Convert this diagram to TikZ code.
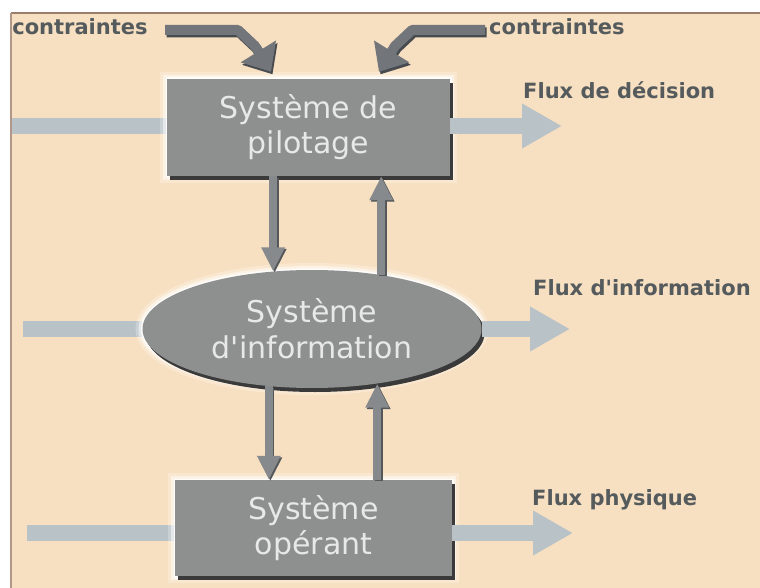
\documentclass[tikz,border=0pt]{standalone}
\usepackage{fontspec}
\setmainfont{DejaVu Sans}
\usetikzlibrary{shapes.geometric,arrows.meta,calc}
\definecolor{bgpeach}{HTML}{F7DFC1}
\definecolor{framebrown}{HTML}{9C7D6A}
\definecolor{flowblue}{HTML}{B8C2C7}
\definecolor{boxgray}{HTML}{8E8F8F}
\definecolor{shadowgray}{HTML}{3A3A3A}
\definecolor{boxtext}{HTML}{E8E8E8}
\definecolor{lblgray}{HTML}{555B5D}
\definecolor{linkgray}{HTML}{878A8D}
\definecolor{linkdark}{HTML}{55585B}
\definecolor{constrgray}{HTML}{72767A}
\definecolor{constrdark}{HTML}{474B4F}
\begin{document}
\begin{tikzpicture}[x=1pt,y=-1pt,
  glow/.style={preaction={draw=white,line width=14pt,opacity=0.25},
               preaction={draw=white,line width=8pt,opacity=0.5},
               preaction={draw=white,line width=3pt,opacity=0.9},
               preaction={fill=shadowgray,transform canvas={shift={(3pt,-4pt)}}}},
  sysbox/.style={rectangle,glow,fill=boxgray,inner sep=0pt,text=boxtext,
                 font=\fontsize{30}{35}\selectfont,align=center},
  sysell/.style={ellipse,glow,fill=boxgray,inner sep=0pt,text=boxtext,
                 font=\fontsize{30}{36}\selectfont,align=center,
                 minimum width=339pt,minimum height=118pt},
  inflow/.style={line width=16pt,draw=flowblue},
  outflow/.style={line width=16pt,draw=flowblue,-{Triangle[width=42pt,length=40pt]}},
  vlink/.style={line width=8pt,draw=linkgray,-{Triangle[width=22pt,length=24pt]}},
  vlinkshadow/.style={line width=8pt,draw=linkdark,-{Triangle[width=22pt,length=24pt]},
                 transform canvas={shift={(1.5pt,-1.5pt)}}},
  constr/.style={line width=10pt,draw=constrgray,line join=round,-{Triangle[width=40pt,length=24pt]}},
  constrshadow/.style={line width=10pt,draw=constrdark,line join=round,-{Triangle[width=40pt,length=24pt]},
                 transform canvas={shift={(1.5pt,-2.5pt)}}},
  lbl/.style={font=\bfseries\fontsize{21}{25}\selectfont,text=lblgray,inner sep=0pt}
]
\useasboundingbox (0,0) rectangle (760,588);
\fill[white] (0,0) rectangle (760,588);
\fill[bgpeach] (11,13) rectangle (760,588);
\draw[framebrown,line width=2.5pt] (11,13) -- (760,13);
\draw[framebrown!80,line width=2pt] (11,13) -- (11,588);

% free ends of the flows
\coordinate (in1) at (12,126);
\coordinate (out1) at (562,126);
\coordinate (in2) at (23,329);
\coordinate (out2) at (570,329);
\coordinate (in3) at (27,533);
\coordinate (out3) at (573,533);
\coordinate (c1s) at (165,30);
\coordinate (c2s) at (485,30);

% flows drawn first so the systems sit on top
\draw[inflow] (in1) -- (208,126);
\draw[inflow] (in2) -- (312,329);
\draw[inflow] (in3) -- (220,533);

% systems
\node[sysbox,minimum width=283pt,minimum height=97pt] (b1) at (308.5,127.5) {Système de\\pilotage};
\node[sysell] (ell) at (312,329) {Système\\d\textquotesingle information};
\node[sysbox,minimum width=277pt,minimum height=96pt] (b3) at (313.5,528) {Système\\opérant};

\draw[outflow] (out1 -| b1.east) -- (out1);
\draw[outflow] (ell.east) -- (out2);
\draw[outflow] (out3 -| b3.east) -- (out3);

% links between systems
\draw[vlinkshadow] (b1.south -| ell.124) -- (ell.124);
\draw[vlink] (b1.south -| ell.124) -- (ell.124);
\draw[vlinkshadow] (ell.38) -- (ell.38 |- b1.south);
\draw[vlink] (ell.38) -- (ell.38 |- b1.south);
\draw[vlinkshadow] (ell.233.7) -- (ell.233.7 |- b3.north);
\draw[vlink] (ell.233.7) -- (ell.233.7 |- b3.north);
\draw[vlinkshadow] (ell.320.6 |- b3.north) -- (ell.320.6);
\draw[vlink] (ell.320.6 |- b3.north) -- (ell.320.6);

% constraints
\draw[constrshadow] (c1s) -- (238,30) -- (255,46) -- ($(b1.north)+(-37.5,-7)$);
\draw[constr] (c1s) -- (238,30) -- (255,46) -- ($(b1.north)+(-37.5,-7)$);
\draw[constrshadow] (c2s) -- (412,30) -- (395,46) -- ($(b1.north)+(70.5,-7)$);
\draw[constr] (c2s) -- (412,30) -- (395,46) -- ($(b1.north)+(70.5,-7)$);

% labels
\node[lbl] (lc1) at (80,27) {contraintes};
\node[lbl,anchor=west] (lc2) at (489,27) {contraintes};
\node[lbl,anchor=west] (lf1) at (523,90) {Flux de décision};
\node[lbl,anchor=west] (lf2) at (533,288) {Flux d\textquotesingle information};
\node[lbl,anchor=west] (lf3) at (532,500) {Flux physique};
\end{tikzpicture}
\end{document}
